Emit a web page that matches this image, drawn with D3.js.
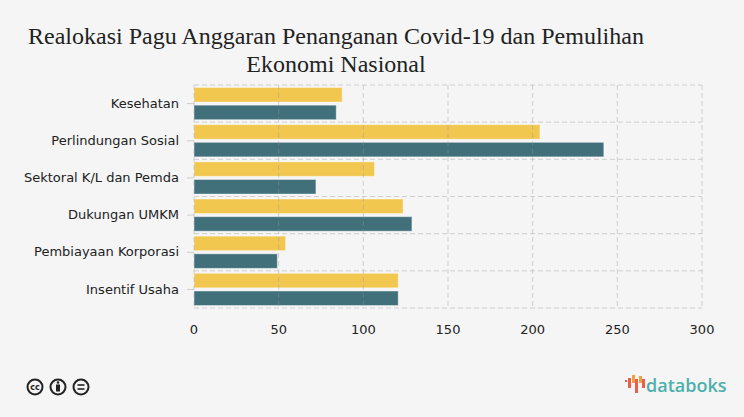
<!DOCTYPE html>
<html><head><meta charset="utf-8">
<script src="https://cdn.jsdelivr.net/npm/d3@7"></script>
<style>html,body{margin:0;padding:0;background:#f5f5f5}svg{display:block}</style>
</head><body><div id="c"></div>
<script>
const categories=["Kesehatan","Perlindungan Sosial","Sektoral K/L dan Pemda","Dukungan UMKM","Pembiayaan Korporasi","Insentif Usaha"];
const seriesA=[87.5,204.3,106.6,123.5,54.1,120.6];
const seriesB=[84,242,72,128.7,49.2,120.6];
const xTicks=[0,50,100,150,200,250,300];
const titleLines=["Realokasi Pagu Anggaran Penanganan Covid-19 dan Pemulihan","Ekonomi Nasional"];
const W=744,H=417,m={l:194,r:702,t:85,b:308};
const svg=d3.select("#c").append("svg").attr("width",W).attr("height",H);
svg.append("rect").attr("width",W).attr("height",H).attr("fill","#f5f5f5");
const x=d3.scaleLinear().domain([0,300]).range([m.l,m.r]);
const y=d3.scaleBand().domain(categories).range([m.t,m.b]);
const sub=d3.scaleBand().domain(["a","b"]).range([0,y.bandwidth()]).paddingInner(0.18).paddingOuter(0.14);
const titleFont="'DejaVu Serif','Liberation Serif',serif", font="'DejaVu Sans',Verdana,sans-serif";
svg.selectAll("text.t").data(titleLines).join("text").attr("class","t")
 .attr("x",336).attr("y",(d,i)=>44+i*28).attr("text-anchor","middle")
 .attr("font-family","'Liberation Serif',serif").attr("font-size",24).attr("fill","#222").text(d=>d);
const bars=svg.append("g");
[["a",seriesA,"#f2c750"],["b",seriesB,"#41707b"]].forEach(([k,vals,col])=>{
 bars.selectAll("rect."+k).data(vals).join("rect").attr("class",k)
  .attr("x",x(0)).attr("y",(d,i)=>y(categories[i])+sub(k)).attr("width",d=>x(d)-x(0)).attr("height",sub.bandwidth())
  .attr("fill",col).attr("stroke","#fff").attr("stroke-opacity",.4).attr("stroke-width",1);
});
const grid=svg.append("g").attr("fill","none").attr("stroke","#999").attr("stroke-opacity",.4).attr("stroke-dasharray","5,3");
grid.selectAll("line.v").data(xTicks).join("line").attr("class","v").attr("x1",d=>x(d)).attr("x2",d=>x(d)).attr("y1",m.t).attr("y2",m.b);
const hs=[...categories.map(c=>y(c)),m.b];
grid.selectAll("line.h").data(hs).join("line").attr("class","h").attr("x1",m.l).attr("x2",m.r).attr("y1",d=>d).attr("y2",d=>d);
const ax=svg.append("g").attr("transform",`translate(0,${m.b})`).call(d3.axisBottom(x).tickValues(xTicks).tickSize(0).tickPadding(17));
ax.select(".domain").remove();
ax.selectAll("text").attr("font-family",font).attr("font-size",13).attr("fill","#222").attr("dx",-0.5);
const ay=svg.append("g").attr("transform",`translate(${m.l},0)`).call(d3.axisLeft(y).tickSize(7).tickPadding(8));
ay.select(".domain").remove();
ay.selectAll("line").attr("stroke","#ccc").attr("transform","translate(0,0)");
ay.selectAll("text").attr("font-family",font).attr("font-size",13).attr("fill","#222");
// CC icons
const ic=svg.append("g").attr("fill","none").attr("stroke","#222");
[35,58,81].forEach(cx=>ic.append("circle").attr("cx",cx).attr("cy",387).attr("r",7.5).attr("stroke-width",2));
ic.append("text").attr("x",35).attr("y",390).attr("text-anchor","middle").attr("font-family",font).attr("font-weight","bold").attr("font-size",8).attr("fill","#222").attr("stroke","none").text("cc");
ic.append("circle").attr("cx",58).attr("cy",382.5).attr("r",1.3).attr("fill","#222").attr("stroke","none");
ic.append("rect").attr("x",56).attr("y",384.5).attr("width",4).attr("height",7).attr("fill","#222").attr("stroke","none");
[385,389].forEach(yy=>ic.append("line").attr("x1",77.5).attr("x2",84.5).attr("y1",yy).attr("y2",yy).attr("stroke-width",1.6));
// logo
const logoBars=[[625,380,2,2,"#e8604c"],[628,378,3,10,"#e8604c"],[632,375,3,8,"#f0a040"],[635,379,3,14,"#e8604c"],[639,376,3,7,"#f0a040"],[642,379,3,9,"#e8604c"]];
svg.append("g").selectAll("rect").data(logoBars).join("rect").attr("x",d=>d[0]).attr("y",d=>d[1]).attr("width",d=>d[2]).attr("height",d=>d[3]).attr("fill",d=>d[4]);
svg.append("text").attr("x",646).attr("y",392).attr("font-family","'Open Sans',sans-serif").attr("font-weight",600).attr("font-size",18).attr("fill","#4db0ac").text("databoks");
</script></body></html>
